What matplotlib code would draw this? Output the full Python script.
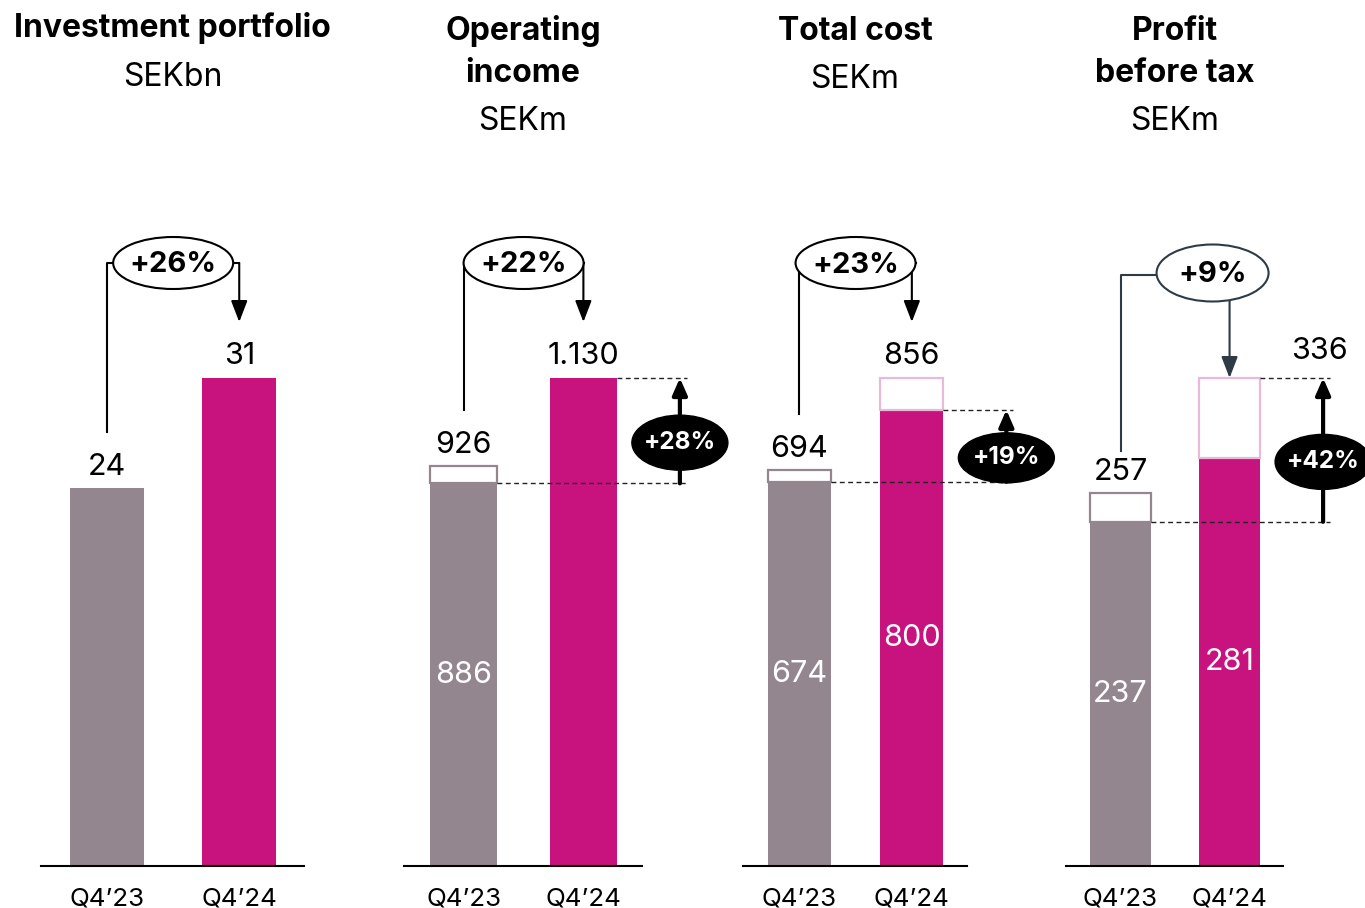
import matplotlib
matplotlib.use("Agg")
import matplotlib.pyplot as plt
from matplotlib.patches import Ellipse
from matplotlib.patches import ArrowStyle

plt.rcParams['font.family'] = ['Inter', 'DejaVu Sans']

# ---------------- data ----------------
periods = ["Q4’23", "Q4’24"]
title_lines = [["Investment portfolio"], ["Operating", "income"], ["Total cost"], ["Profit", "before tax"]]
units = ["SEKbn", "SEKm", "SEKm", "SEKm"]

total_q423 = [24, 926, 694, 257]
total_q424 = [31, 1130, 856, 336]
base_q423 = [None, 886, 674, 237]
base_q424 = [None, 1130, 800, 281]
label_q423 = ["24", "926", "694", "257"]
label_q424 = ["31", "1.130", "856", "336"]
base_label_q423 = [None, "886", "674", "237"]
base_label_q424 = [None, None, "800", "281"]
growth_total = ["+26%", "+22%", "+23%", "+9%"]
growth_base = [None, "+28%", "+19%", "+42%"]
growth_base_top = [None, 1130, 800, 336]

# ---------------- style / layout ----------------
GRAY = "#94868f"
MAGENTA = "#c8137f"
PINK = "#eab9d8"
SLATE = "#2e3b47"
W, H = 1365, 908
BASE_PX = 866          # baseline pixel row
FULL_PX = 488          # height in px of the Q4'24 total
panel_px = [(41, 304), (404, 642), (743, 967), (1066, 1283)]
title_top_px = [28, 31, 31, 31]
BW = 0.56
XL = (-0.5, 1.49)
FS_NUM = 22
FS_TITLE = 23
FS_UNIT = 23

fig = plt.figure(figsize=(W / 100, H / 100), dpi=100)

for i in range(4):
    l, r = panel_px[i]
    ax = fig.add_axes([l / W, (H - BASE_PX) / H, (r - l) / W, BASE_PX / H])
    vmax = total_q424[i]
    ax.set_xlim(*XL)
    ax.set_ylim(0, vmax * BASE_PX / FULL_PX)
    sx = (XL[1] - XL[0]) / (r - l)   # data units per px (x)
    sy = vmax / FULL_PX              # data units per px (y)

    def yd(p):
        return (BASE_PX - p) * sy

    for s in ["top", "right", "left"]:
        ax.spines[s].set_visible(False)
    ax.spines["bottom"].set_linewidth(1.5)
    ax.set_yticks([])
    ax.set_xticks([0, 1])
    ax.set_xticklabels(periods, fontsize=18.7)
    ax.tick_params(axis="x", length=0, pad=15.5)

    # bars
    if base_q423[i] is None:
        ax.bar(0, total_q423[i], width=BW, color=GRAY, zorder=2)
        ax.bar(1, total_q424[i], width=BW, color=MAGENTA, zorder=2)
    else:
        ax.bar(0, base_q423[i], width=BW, color=GRAY, zorder=2)
        ax.bar(0, total_q423[i] - base_q423[i], bottom=base_q423[i], width=BW,
               facecolor="white", edgecolor=GRAY, linewidth=1.6, zorder=3)
        ax.bar(1, base_q424[i], width=BW, color=MAGENTA, zorder=2)
        if total_q424[i] > base_q424[i]:
            ax.bar(1, total_q424[i] - base_q424[i], bottom=base_q424[i], width=BW,
                   facecolor="white", edgecolor=PINK, linewidth=1.6, zorder=3)
        ax.text(0, base_q423[i] / 2, base_label_q423[i], color="white", fontsize=FS_NUM,
                ha="center", va="center", zorder=5)
        if base_label_q424[i]:
            ax.text(1, base_q424[i] / 2, base_label_q424[i], color="white", fontsize=FS_NUM,
                    ha="center", va="center", zorder=5)

    # side arrow geometry
    xa = 1 + BW / 2 + 63 * sx

    # value labels
    ax.text(0, total_q423[i] + 21 * sy, label_q423[i], fontsize=FS_NUM, ha="center", va="center")
    if i == 3:
        ax.text(xa - 4 * sx, total_q424[i] + 27 * sy, label_q424[i], fontsize=FS_NUM,
                ha="center", va="center")
    else:
        ax.text(1, total_q424[i] + 22 * sy, label_q424[i], fontsize=FS_NUM,
                ha="center", va="center")

    # titles
    t0 = title_top_px[i]
    for k, line in enumerate(title_lines[i]):
        ax.text(0.5, (BASE_PX - (t0 + 42 * k)) / BASE_PX, line, transform=ax.transAxes,
                fontsize=FS_TITLE, fontweight="bold", ha="center", va="center")
    ax.text(0.5, (BASE_PX - (t0 + 42 * (len(title_lines[i]) - 1) + 49)) / BASE_PX, units[i],
            transform=ax.transAxes, fontsize=FS_UNIT, ha="center", va="center")

    # total-growth bracket
    head = ArrowStyle("-|>", head_length=0.65, head_width=0.25)
    if i < 3:
        lvl = yd(263)
        ew, eh = 120 * sx, 52 * sy
        ax.plot([0, 0, 0.5 - ew / 2], [total_q423[i] + 56 * sy, lvl, lvl],
                color="black", lw=1.5, zorder=4, clip_on=False)
        ax.plot([0.5 + ew / 2, 1], [lvl, lvl], color="black", lw=1.5, zorder=4, clip_on=False)
        ax.annotate("", xy=(1, total_q424[i] + 56 * sy), xytext=(1, lvl),
                    arrowprops=dict(arrowstyle=head, color="black", lw=1.5,
                                    mutation_scale=20, shrinkA=0, shrinkB=0),
                    zorder=4, annotation_clip=False)
        ax.add_patch(Ellipse((0.5, lvl), ew, eh, facecolor="white", edgecolor="black",
                             lw=1.5, zorder=6, clip_on=False))
        ax.text(0.5, lvl - 2 * sy, growth_total[i], fontsize=21, fontweight="bold",
                ha="center", va="center", zorder=7)
    else:
        lvl = yd(275)
        ex = 1 - 17 * sx
        ew, eh = 112 * sx, 57 * sy
        ax.plot([0, 0, ex], [total_q423[i] + 42 * sy, lvl, lvl],
                color=SLATE, lw=1.5, zorder=4, clip_on=False)
        ax.annotate("", xy=(1, total_q424[i]), xytext=(1, lvl),
                    arrowprops=dict(arrowstyle=head, color=SLATE, lw=1.5,
                                    mutation_scale=20, shrinkA=0, shrinkB=0),
                    zorder=4, annotation_clip=False)
        ax.add_patch(Ellipse((ex, yd(273)), ew, eh, facecolor="white", edgecolor=SLATE,
                             lw=1.5, zorder=6, clip_on=False))
        ax.text(ex, yd(273) - 2 * sy, growth_total[i], fontsize=21, fontweight="bold",
                ha="center", va="center", zorder=7)

    # base-growth side arrow
    if growth_base[i]:
        lo, hi = base_q423[i], growth_base_top[i]
        dash = (0, (3.5, 2.5))
        ax.plot([1 + BW / 2, xa + 7 * sx], [hi, hi], color="#222222", lw=1,
                ls=dash, zorder=3, clip_on=False)
        ax.plot([BW / 2, xa + 7 * sx], [lo, lo], color="#222222", lw=1,
                ls=dash, zorder=3, clip_on=False)
        ax.annotate("", xy=(xa, hi), xytext=(xa, lo),
                    arrowprops=dict(arrowstyle=ArrowStyle("-|>", head_length=0.5, head_width=0.22),
                                    color="black", lw=3, mutation_scale=20,
                                    shrinkA=0, shrinkB=0),
                    zorder=4, annotation_clip=False)
        cy = (lo + hi) / 2 - 12 * sy
        eh2 = 50 if i == 2 else 55
        ax.add_patch(Ellipse((xa, cy), 96 * sx, eh2 * sy, facecolor="black",
                             edgecolor="black", zorder=6, clip_on=False))
        ax.text(xa, cy, growth_base[i], color="white", fontsize=17.5, fontweight="bold",
                ha="center", va="center", zorder=7)

fig.savefig("out.png", dpi=100)
